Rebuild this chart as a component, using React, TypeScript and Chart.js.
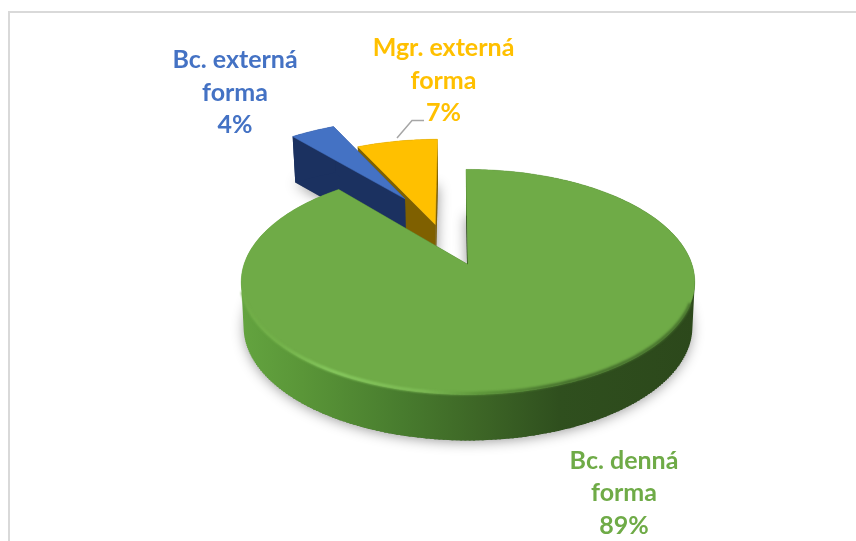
import React, { useEffect, useRef } from "react";
import { Chart, registerables } from "chart.js";

Chart.register(...registerables);

const categories = ["Bc. denná forma", "Bc. externá forma", "Mgr. externá forma"];
const values = [89, 4, 7];
const faceColors = ["#6FAB47", "#4472C4", "#FFC000"];
const wallColors = ["#2c4a1b", "#1b3160", "#7F6000"];

// layout of the tilted pie
const CX = 468, AY = 264.5, AX_R = 224, AY_R = 109.8, PERSP = 0.155, DEPTH = 46, BASE_SCALE = 0.985;
const pull = [[0, 0], [-0.31, -0.659], [-0.155, -0.386]];
const labelPos = [[624, 460.5], [235, 60], [443.5, 48]];
const LINE_H = 32.7;
const drawOrder = [2, 1, 0];

function project(u: number, v: number, down: number) {
  const w = 1 - PERSP * v;
  const sx = (AX_R * u) / w;
  const sy = (AY_R * v) / w;
  if (down === 0) return [CX + sx, AY + sy];
  return [CX + sx * BASE_SCALE, AY + sy + down];
}
function arcPts(el: any, idx: number, down: number, from?: number, to?: number) {
  const a0 = from ?? el.startAngle, a1 = to ?? el.endAngle;
  const n = Math.max(4, Math.ceil((a1 - a0) * 60));
  const pts: number[][] = [];
  for (let i = 0; i <= n; i++) {
    const a = a0 + ((a1 - a0) * i) / n;
    pts.push(project(Math.cos(a) + pull[idx][0], Math.sin(a) + pull[idx][1], down));
  }
  return pts;
}
function poly(ctx: CanvasRenderingContext2D, pts: number[][]) {
  ctx.beginPath();
  pts.forEach((p, i) => (i ? ctx.lineTo(p[0], p[1]) : ctx.moveTo(p[0], p[1])));
  ctx.closePath();
}

const piePlugin = {
  id: "tiltedPie",
  beforeDatasetsDraw(chart: any) {
    const ctx: CanvasRenderingContext2D = chart.ctx;
    const arcs = chart.getDatasetMeta(0).data;
    // frame
    ctx.save();
    ctx.strokeStyle = "#d9d9d9";
    ctx.lineWidth = 2;
    ctx.beginPath();
    ctx.moveTo(9, 541);
    ctx.lineTo(9, 12);
    ctx.lineTo(856, 12);
    ctx.stroke();
    ctx.restore();

    // soft shadows of the base
    drawOrder.forEach((i) => {
      const el = arcs[i];
      const apex = project(pull[i][0], pull[i][1], DEPTH);
      ctx.save();
      ctx.shadowColor = "rgba(0,0,0,0.42)";
      ctx.shadowBlur = 13;
      ctx.shadowOffsetY = 1;
      ctx.fillStyle = "#888";
      poly(ctx, [apex, ...arcPts(el, i, DEPTH)]);
      ctx.fill();
      ctx.restore();
    });

    const greenWall = ctx.createLinearGradient(243, 0, 695, 0);
    greenWall.addColorStop(0, "#63a33f");
    greenWall.addColorStop(0.13, "#5a9638");
    greenWall.addColorStop(0.35, "#487c2e");
    greenWall.addColorStop(0.52, "#3d6626");
    greenWall.addColorStop(0.7, "#2f4f1e");
    greenWall.addColorStop(1, "#2c481b");

    drawOrder.forEach((i) => {
      const el = arcs[i];
      const apexTop = project(pull[i][0], pull[i][1], 0);
      const apexBase = project(pull[i][0], pull[i][1], DEPTH);
      const top = arcPts(el, i, 0);
      const base = arcPts(el, i, DEPTH);
      const wall = i === 0 ? greenWall : wallColors[i];
      ctx.fillStyle = wallColors[i];
      // cut faces
      poly(ctx, [apexTop, top[0], base[0], apexBase]);
      ctx.fill();
      poly(ctx, [apexTop, top[top.length - 1], base[base.length - 1], apexBase]);
      ctx.fill();
      // outer wall
      ctx.fillStyle = wall;
      poly(ctx, [...top, ...base.slice().reverse()]);
      ctx.fill();
      if (i === 0) {
        // front of the big slice is swept so the silhouette has no step
        ctx.strokeStyle = wall;
        ctx.lineWidth = 2;
        ctx.beginPath();
        for (let k = 0; k < top.length; k++) {
          if (top[k][1] < 280) continue;
          ctx.moveTo(top[k][0] + Math.sign(CX - top[k][0]), top[k][1]);
          ctx.lineTo(base[k][0], base[k][1]);
        }
        ctx.stroke();
      }
      // top face
      ctx.fillStyle = faceColors[i];
      poly(ctx, [apexTop, ...top]);
      ctx.fill();
      ctx.strokeStyle = faceColors[i];
      ctx.lineWidth = 0.5;
      ctx.stroke();
    });

    // bevel along the front rim of the large slice
    const rim = ctx.createLinearGradient(243, 0, 695, 0);
    rim.addColorStop(0, "#70AD47");
    rim.addColorStop(0.08, "#74b34b");
    rim.addColorStop(0.2, "#88cb60");
    rim.addColorStop(0.4, "#7dbb55");
    rim.addColorStop(0.52, "#5b9339");
    rim.addColorStop(0.72, "#41692a");
    rim.addColorStop(1, "#47722d");
    ctx.save();
    ctx.filter = "blur(1.2px)";
    ctx.strokeStyle = rim;
    ctx.lineWidth = 3;
    ctx.lineCap = "butt";
    const rimPts = arcPts(arcs[0], 0, 0, 0.35, Math.PI - 0.25).map((p) => [p[0], p[1] - 1]);
    ctx.beginPath();
    rimPts.forEach((p, k) => (k ? ctx.lineTo(p[0], p[1]) : ctx.moveTo(p[0], p[1])));
    ctx.stroke();
    ctx.restore();

    // leader line of the small slice label
    ctx.save();
    ctx.strokeStyle = "#a6a6a6";
    ctx.lineWidth = 1.5;
    ctx.beginPath();
    ctx.moveTo(397, 138);
    ctx.lineTo(412, 120.5);
    ctx.lineTo(424, 120.5);
    ctx.stroke();
    ctx.restore();

    // labels
    ctx.save();
    ctx.font = 'bold 25px Lato, "Open Sans", sans-serif';
    ctx.textAlign = "center";
    ctx.textBaseline = "middle";
    categories.forEach((name, i) => {
      const cut = name.lastIndexOf(" ");
      const lines = [name.slice(0, cut), name.slice(cut + 1), values[i] + "%"];
      ctx.fillStyle = faceColors[i];
      lines.forEach((t, k) => ctx.fillText(t, labelPos[i][0], labelPos[i][1] + k * LINE_H));
    });
    ctx.restore();
    return false;
  },
};

export default function App() {
  const ref = useRef<HTMLCanvasElement>(null);
  useEffect(() => {
    document.body.style.margin = "0";
    const chart = new Chart(ref.current!, {
      type: "pie",
      data: {
        labels: categories,
        datasets: [{ data: values, backgroundColor: faceColors, borderWidth: 0 }],
      },
      options: {
        responsive: false,
        animation: false,
        rotation: -0.6,
        plugins: { legend: { display: false }, tooltip: { enabled: false } },
      },
      plugins: [piePlugin],
    } as any);
    return () => chart.destroy();
  }, []);
  return <canvas ref={ref} width={856} height={541} style={{ display: "block", background: "#fff" }} />;
}
